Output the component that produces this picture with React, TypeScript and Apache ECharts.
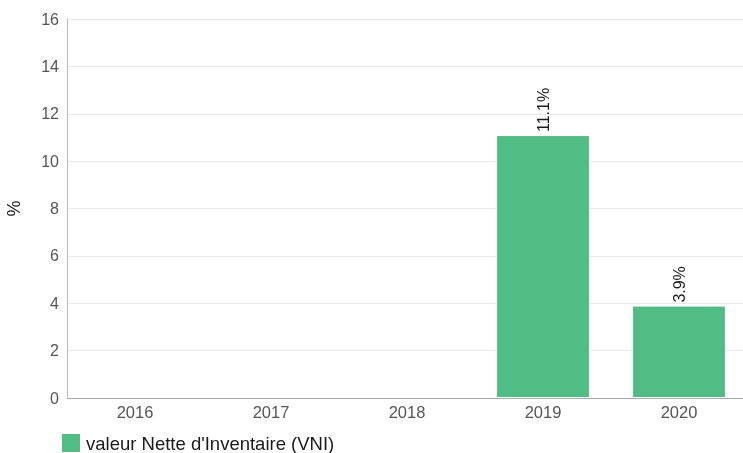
import React, { useEffect, useRef } from "react";
import * as echarts from "echarts";

const categories = ["2016", "2017", "2018", "2019", "2020"];
const vniValues: (number | null)[] = [null, null, null, 11.1, 3.9];
const seriesName = "valeur Nette d'Inventaire (VNI)";
const yTicks = { min: 0, max: 16, interval: 2 };

export default function App() {
  const ref = useRef<HTMLDivElement>(null);
  useEffect(() => {
    const chart = echarts.init(ref.current!, null, { renderer: "svg" });
    chart.setOption({
      animation: false,
      textStyle: { fontFamily: "Liberation Sans, Arial, sans-serif" },
      grid: { left: 67, right: -4, top: 19, bottom: 55, outerBoundsMode: "none", containLabel: false },
      legend: {
        left: 60,
        top: 432,
        padding: 0,
        itemWidth: 20,
        itemHeight: 20,
        icon: "rect",
        itemGap: 10,
        textStyle: { fontSize: 18.5, color: "#1a1a1a" },
        data: [seriesName],
      },
      xAxis: {
        type: "category",
        data: categories,
        axisTick: { show: false },
        axisLine: { lineStyle: { color: "#aaa" } },
        axisLabel: { color: "#555", fontSize: 16.5, margin: 5 },
      },
      yAxis: {
        type: "value",
        min: yTicks.min,
        max: yTicks.max,
        interval: yTicks.interval,
        name: "%",
        nameLocation: "middle",
        nameRotate: 90,
        nameGap: 44,
        nameTextStyle: { color: "#1a1a1a", fontSize: 18 },
        axisLine: { show: true, lineStyle: { color: "#bbb" } },
        axisTick: { show: false },
        axisLabel: { color: "#555", fontSize: 16, margin: 8 },
        splitLine: { lineStyle: { color: "#e8e8e8" } },
      },
      series: [
        {
          name: seriesName,
          type: "bar",
          data: vniValues,
          barCategoryGap: "31%",
          itemStyle: { color: "#51bc84", borderColor: "#fff", borderWidth: 1 },
          label: {
            show: true,
            position: "top",
            rotate: 90,
            align: "left",
            verticalAlign: "middle",
            distance: 3,
            fontSize: 16,
            color: "#1a1a1a",
            formatter: (p: any) => p.value + "%",
          },
        },
      ],
    });
    return () => chart.dispose();
  }, []);
  return (
    <div
      ref={ref}
      style={{ position: "fixed", left: 0, top: 0, width: 743, height: 453 }}
    />
  );
}
